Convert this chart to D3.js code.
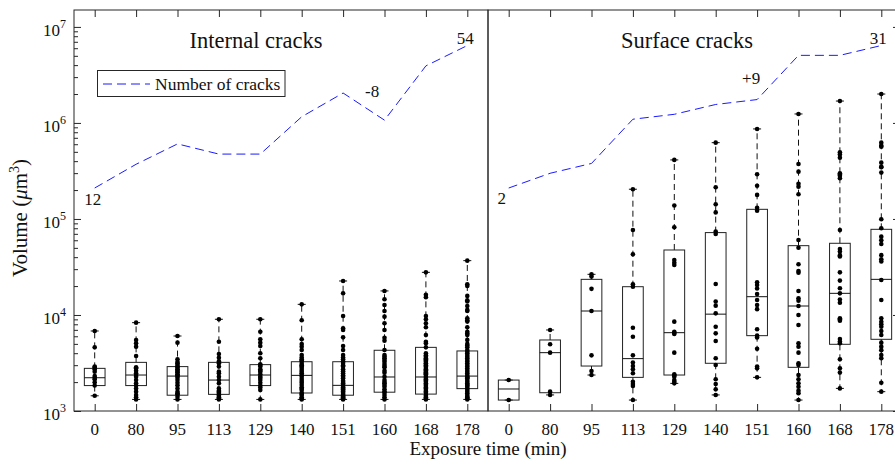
<!DOCTYPE html>
<html><head><meta charset="utf-8">
<script src="https://cdn.jsdelivr.net/npm/d3@7"></script>
<style>
body{margin:0;background:#fff}
svg{display:block}
text{font-family:"Liberation Serif","Times New Roman",serif;fill:#111}
</style>
</head><body>
<svg id="chart" width="895" height="464"></svg>
<script>
// ---------------- data ----------------
const categories = ["0","80","95","113","129","140","151","160","168","178"];
const yTickValues = [1e3, 1e4, 1e5, 1e6, 1e7];
const yTickExponents = ["3","4","5","6","7"];
const panelTitles = ["Internal cracks", "Surface cracks"];
const legendLabel = "Number of cracks";
const xAxisLabel = "Exposure time (min)";

const internalCounts = [12, 19, 25, 22, 22, 33, 40, 32, 48, 54];
const surfaceCounts  = [2, 5, 7, 16, 17, 19, 20, 29, 29, 31];

const internalQ1     = [1840, 1840, 1460, 1490, 1840, 1540, 1460, 1570, 1500, 1710];
const internalMedian = [2220, 2370, 2310, 2100, 2370, 2350, 1850, 2260, 2260, 2310];
const internalQ3     = [2780, 3210, 2900, 3210, 3040, 3260, 3260, 4290, 4600, 4220];

const surfaceQ1      = [1300, 1550, 2940, 2240, 2370, 3140, 6090, 2850, 4950, 5580];
const surfaceMedian  = [1695, 4050, 11000, 3510, 6540, 10200, 15500, 12400, 16800, 23500];
const surfaceQ3      = [2100, 5490, 23500, 19700, 47500, 72100, 126000, 52700, 55800, 78000];

const internalPoints = [
  [6810, 4600, 2900, 2850, 2720, 2570, 2310, 2220, 2140, 1990, 1840, 1440],
  [8320, 5490, 5070, 4680, 3740, 2850, 2780, 2630, 2470, 2370, 2280, 2100, 1940, 1840, 1720, 1590, 1470, 1390, 1320],
  [6040, 5150, 3450, 3240, 3140, 3010, 2900, 2830, 2720, 2670, 2570, 2530, 2410, 2370, 2310, 2220, 2100, 1970, 1850, 1720, 1590, 1530, 1490, 1410, 1320],
  [9020, 5270, 3920, 3590, 3290, 3140, 2900, 2570, 2470, 2280, 2100, 1940, 1720, 1630, 1590, 1550, 1500, 1470, 1430, 1390, 1360, 1320],
  [9020, 6700, 5580, 5150, 4750, 3990, 3540, 3060, 3010, 2900, 2720, 2630, 2570, 2410, 2280, 2200, 2100, 1970, 1840, 1760, 1650, 1320],
  [12900, 8800, 5580, 4990, 4680, 4320, 3830, 3600, 3450, 3350, 3260, 3090, 3000, 2900, 2800, 2670, 2570, 2470, 2370, 2280, 2150, 2050, 1970, 1870, 1770, 1700, 1650, 1550, 1500, 1470, 1390, 1350, 1320],
  [22600, 16800, 9770, 7260, 6980, 5850, 4750, 4320, 3830, 3600, 3450, 3300, 3170, 3000, 2900, 2720, 2600, 2470, 2350, 2280, 2190, 2070, 2000, 1940, 1880, 1820, 1770, 1720, 1680, 1630, 1600, 1550, 1500, 1470, 1440, 1420, 1390, 1360, 1340, 1320],
  [17800, 14600, 12700, 11000, 9610, 8190, 6980, 5800, 5400, 4320, 3830, 3680, 3550, 3400, 3250, 3090, 2940, 2850, 2630, 2500, 2280, 2100, 2000, 1940, 1860, 1790, 1680, 1600, 1550, 1470, 1390, 1320],
  [27800, 16200, 15300, 9770, 9020, 8190, 7440, 6190, 5270, 5070, 4600, 3990, 3800, 3680, 3550, 3450, 3350, 3260, 3150, 3090, 3000, 2900, 2800, 2720, 2650, 2570, 2520, 2470, 2420, 2370, 2280, 2200, 2140, 2080, 2020, 1940, 1880, 1820, 1760, 1720, 1650, 1600, 1550, 1470, 1430, 1390, 1350, 1320],
  [36800, 20900, 20000, 15800, 14200, 13800, 12400, 11300, 11000, 9230, 8800, 8530, 7440, 6700, 6400, 6190, 5500, 5000, 4800, 4600, 4320, 4150, 3990, 3830, 3680, 3540, 3400, 3270, 3140, 3020, 2900, 2780, 2670, 2570, 2470, 2370, 2280, 2230, 2190, 2100, 2020, 1940, 1870, 1860, 1790, 1720, 1650, 1590, 1530, 1470, 1410, 1380, 1350, 1320]
];

const surfacePoints = [
  [2100, 1300],
  [6980, 4950, 4050, 1590, 1470],
  [26500, 25100, 18700, 11000, 3800, 2610, 2370],
  [204000, 76800, 42800, 20900, 19700, 7370, 5940, 3800, 3190, 2940, 2720, 2470, 2020, 1910, 1820, 1300],
  [412000, 138000, 81900, 37400, 35000, 33200, 8520, 6700, 6500, 6340, 4050, 2410, 2340, 2280, 2100, 2020, 1940],
  [623000, 214000, 142000, 117000, 73800, 69800, 21000, 13800, 12500, 10400, 7550, 6440, 5360, 3540, 3010, 2140, 1910, 1680, 1470],
  [866000, 292000, 222000, 178000, 131000, 122000, 21900, 20500, 18900, 16500, 14300, 12700, 11500, 7100, 6090, 5840, 4450, 2900, 2780, 2240],
  [1240000, 374000, 311000, 232000, 217000, 181000, 60400, 50200, 33700, 28700, 27600, 17800, 14900, 14100, 12400, 10000, 7870, 5070, 4680, 4050, 3140, 3010, 2370, 2140, 1940, 1790, 1630, 1530, 1300],
  [1690000, 495000, 470000, 435000, 299000, 290000, 281000, 265000, 76800, 48700, 45700, 42000, 40600, 27800, 22800, 19000, 16800, 14500, 13400, 9230, 9000, 8730, 5620, 5300, 5070, 3450, 2780, 2510, 1720],
  [2000000, 623000, 580000, 566000, 386000, 350000, 345000, 304000, 99300, 80000, 65400, 60000, 54900, 42000, 38000, 36000, 23100, 14300, 9230, 8500, 8000, 7550, 6800, 6190, 5150, 4680, 4300, 3830, 3540, 1970, 1590]
];

// annotation labels on the count lines: [text, category index, dx, dy]
const internalNotes = [["12", 0, -2, 17], ["-8", 6, 29, 4], ["54", 9, -2, -2]];
const surfaceNotes  = [["2", 0, -7, 16], ["+9", 6, -6, -16], ["31", 9, -3, -2]];

// ---------------- layout ----------------
const svg = d3.select("#chart");
const plotTop = 10, plotBottom = 411;
const axisColor = "#262626";
const y = d3.scaleLog().domain([1e3, 1.5e7]).range([plotBottom, plotTop]);
const countVolRange = [2.1e5, 6.4e6];

const panels = [
  {x0: 74, x1: 488, title: panelTitles[0], titleX: 256, points: internalPoints,
   q1: internalQ1, med: internalMedian, q3: internalQ3, counts: internalCounts, notes: internalNotes, leftAxis: true},
  {x0: 488, x1: 902, title: panelTitles[1], titleX: 687, points: surfacePoints,
   q1: surfaceQ1, med: surfaceMedian, q3: surfaceQ3, counts: surfaceCounts, notes: surfaceNotes, leftAxis: false}
];

svg.append("rect").attr("width", 895).attr("height", 464).attr("fill", "#fff");

panels.forEach(p => {
  const x = d3.scalePoint().domain(categories).range([p.x0, p.x1]).padding(0.5);
  const g = svg.append("g");

  // frame
  g.append("rect").attr("x", p.x0).attr("y", plotTop).attr("width", p.x1 - p.x0)
    .attr("height", plotBottom - plotTop).attr("fill", "none").attr("stroke", axisColor).attr("stroke-width", 1);

  // x ticks bottom + top
  const xb = g.append("g").attr("transform", `translate(0,${plotBottom})`)
    .call(d3.axisBottom(x).tickSizeInner(-7).tickSizeOuter(0).tickFormat(""));
  const xt = g.append("g").attr("transform", `translate(0,${plotTop})`)
    .call(d3.axisTop(x).tickSizeInner(-7).tickSizeOuter(0).tickFormat(""));
  [xb, xt].forEach(a => { a.select(".domain").remove(); a.selectAll("line").attr("stroke", axisColor); });

  // x tick labels
  g.selectAll(".xl").data(categories).join("text")
    .attr("x", d => x(d)).attr("y", 435).attr("text-anchor", "middle")
    .attr("font-size", 17).text(d => d);

  // left y axis (only first panel)
  if (p.leftAxis) {
    const minor = [];
    for (let e = 3; e <= 6; e++) for (let m = 2; m <= 9; m++) minor.push(m * Math.pow(10, e));
    const ya = g.append("g").attr("transform", `translate(${p.x0},0)`)
      .call(d3.axisLeft(y).tickValues(yTickValues).tickSizeInner(-7).tickSizeOuter(0).tickFormat(""));
    const ym = g.append("g").attr("transform", `translate(${p.x0},0)`)
      .call(d3.axisLeft(y).tickValues(minor).tickSizeInner(-4).tickSizeOuter(0).tickFormat(""));
    [ya, ym].forEach(a => { a.select(".domain").remove(); a.selectAll("line").attr("stroke", axisColor); });
    const lab = g.selectAll(".yl").data(yTickValues).join("text")
      .attr("x", p.x0 - 8).attr("y", d => y(d) + 9).attr("text-anchor", "end").attr("font-size", 17);
    lab.append("tspan").text("10");
    lab.append("tspan").attr("dy", -8).attr("font-size", 12).text((d, i) => yTickExponents[i]);
  } else {
    // mirrored ticks on right side
    const yr = g.append("g").attr("transform", `translate(${p.x1},0)`)
      .call(d3.axisRight(y).tickValues(yTickValues).tickSizeInner(-9).tickSizeOuter(0).tickFormat(""));
    yr.select(".domain").remove(); yr.selectAll("line").attr("stroke", axisColor);
  }

  // boxplots
  const bw = x.step() * 0.5, cw = 8;
  const data = categories.map((c, i) => ({
    c, pts: p.points[i], q1: p.q1[i], med: p.med[i], q3: p.q3[i],
    lo: d3.min(p.points[i]), hi: d3.max(p.points[i])
  }));
  const bg = g.selectAll(".box").data(data).join("g").attr("transform", d => `translate(${x(d.c)},0)`);
  bg.append("line").attr("y1", d => y(d.q3)).attr("y2", d => y(d.hi))
    .attr("stroke", "#111").attr("stroke-dasharray", "6,4");
  bg.append("line").attr("y1", d => y(d.q1)).attr("y2", d => y(d.lo))
    .attr("stroke", "#111").attr("stroke-dasharray", "6,4");
  bg.append("line").attr("x1", -cw / 2).attr("x2", cw / 2).attr("y1", d => y(d.hi)).attr("y2", d => y(d.hi)).attr("stroke", "#111");
  bg.append("line").attr("x1", -cw / 2).attr("x2", cw / 2).attr("y1", d => y(d.lo)).attr("y2", d => y(d.lo)).attr("stroke", "#111");
  bg.append("rect").attr("x", -bw / 2).attr("width", bw)
    .attr("y", d => y(d.q3)).attr("height", d => y(d.q1) - y(d.q3))
    .attr("fill", "none").attr("stroke", "#222");
  bg.append("line").attr("x1", -bw / 2).attr("x2", bw / 2)
    .attr("y1", d => y(d.med)).attr("y2", d => y(d.med)).attr("stroke", "#111");
  bg.selectAll("circle").data(d => d.pts).join("circle")
    .attr("cx", 0).attr("cy", v => y(v)).attr("r", 2.3).attr("fill", "#000");

  // count line
  const cy = d3.scaleLinear().domain(d3.extent(p.counts)).range(countVolRange.map(v => y(v)));
  const line = d3.line().x((d, i) => x(categories[i])).y(d => cy(d));
  g.append("path").datum(p.counts).attr("d", line).attr("fill", "none")
    .attr("stroke", "#1a1aff").attr("stroke-width", 1).attr("stroke-dasharray", "9,5");
  g.selectAll(".note").data(p.notes).join("text")
    .attr("x", d => x(categories[d[1]]) + d[2]).attr("y", d => cy(p.counts[d[1]]) + d[3])
    .attr("text-anchor", "middle").attr("font-size", 17).text(d => d[0]);

  // title
  g.append("text").attr("x", p.titleX).attr("y", 48).attr("text-anchor", "middle")
    .attr("font-size", 22.5).text(p.title);
});

// legend
const lg = svg.append("g");
lg.append("rect").attr("x", 97.5).attr("y", 70.5).attr("width", 187.5).attr("height", 26)
  .attr("fill", "#fff").attr("stroke", axisColor);
lg.append("line").attr("x1", 103).attr("x2", 150).attr("y1", 84).attr("y2", 84)
  .attr("stroke", "#1a1aff").attr("stroke-dasharray", "9,5");
lg.append("text").attr("x", 155).attr("y", 90).attr("font-size", 17.5).text(legendLabel);

// axis labels
svg.append("text").attr("x", 488).attr("y", 455).attr("text-anchor", "middle")
  .attr("font-size", 19).text(xAxisLabel);
const yl = svg.append("text").attr("transform", "translate(27,218) rotate(-90)")
  .attr("text-anchor", "middle").attr("font-size", 21);
yl.append("tspan").text("Volume (");
yl.append("tspan").attr("font-style", "italic").text("μ");
yl.append("tspan").text("m");
yl.append("tspan").attr("dy", -8).attr("font-size", 14).text("3");
yl.append("tspan").attr("dy", 8).text(")");
</script>
</body></html>
